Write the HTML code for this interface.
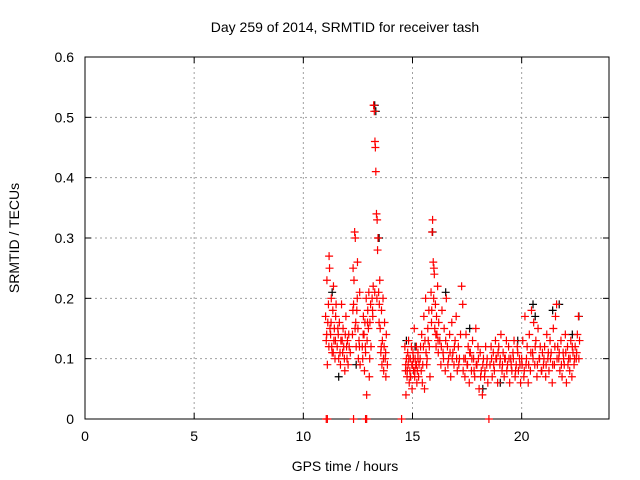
<!DOCTYPE html>
<html><head><meta charset="utf-8"><style>
body{margin:0;background:#fff;}
svg{display:block;font-family:"Liberation Sans",sans-serif;}
</style></head><body>
<svg id="chart" width="640" height="480" viewBox="0 0 640 480">
<rect width="640" height="480" fill="#fff"/>
<text x="345" y="32" font-size="14" text-anchor="middle">Day 259 of 2014, SRMTID for receiver tash</text>
<text x="345" y="471" font-size="14" text-anchor="middle">GPS time / hours</text>
<text transform="translate(19,238) rotate(-90)" font-size="14" text-anchor="middle">SRMTID / TECUs</text>
<g id="grid"></g>
<g id="axes"></g>
<g id="marks"></g>
</svg>
<script>
const xTicks=[0,5,10,15,20];
const yTicks=[0,0.1,0.2,0.3,0.4,0.5,0.6];
const yTickLabels=["0","0.1","0.2","0.3","0.4","0.5","0.6"];
const redTimes=[11.02,11.05,11.08,11.1,11.12,11.15,11.18,11.2,11.22,11.25,11.28,11.3,11.32,11.35,11.38,11.4,11.42,11.45,11.48,11.5,
11.55,11.6,11.62,11.65,11.7,11.72,11.75,11.8,11.82,11.85,11.9,11.92,11.95,12.0,12.02,12.05,12.1,12.15,
12.25,12.28,12.3,12.32,12.35,12.38,12.4,12.42,12.45,12.48,12.5,12.52,12.55,12.58,12.6,
12.7,12.72,12.75,12.78,12.8,12.82,12.85,12.88,12.9,12.92,12.95,12.98,13.0,13.02,13.05,13.08,13.1,
13.15,13.18,13.2,13.22,13.25,13.28,13.3,13.32,13.35,13.38,13.4,13.42,13.45,13.48,13.5,
13.52,13.55,13.58,13.6,13.62,13.65,13.68,13.7,13.72,13.75,13.78,13.8,13.85,
14.65,14.68,14.7,14.72,14.75,14.78,14.8,14.82,14.85,14.88,14.9,14.92,14.95,14.98,15.0,15.02,15.05,15.08,15.1,15.12,15.15,15.18,15.2,15.22,15.25,15.28,15.3,
15.35,15.4,15.42,15.45,15.5,15.52,15.55,15.6,15.62,15.65,15.7,15.72,15.75,15.8,
15.85,15.88,15.9,15.92,15.95,15.98,16.0,16.02,16.05,16.08,16.1,16.12,16.15,16.18,16.2,
16.25,16.3,16.35,16.4,16.45,16.5,16.55,16.6,16.65,16.7,16.75,16.8,16.85,16.9,16.95,17.0,17.05,17.1,17.15,17.2,
17.25,17.3,17.35,17.4,17.45,17.5,17.55,17.6,17.65,17.7,17.75,17.8,17.85,17.9,17.95,18.0,18.05,18.1,18.15,18.2,18.25,18.3,18.35,18.4,18.45,
18.55,18.6,18.65,18.7,18.75,18.8,18.85,18.9,18.95,19.0,19.05,19.1,19.15,19.2,19.25,19.3,19.35,19.4,19.45,19.5,19.55,19.6,19.65,19.7,19.75,19.8,19.85,19.9,19.95,
20.0,20.05,20.1,20.15,20.2,20.25,20.3,20.35,20.4,20.45,20.5,20.55,20.6,20.65,20.7,20.75,20.8,20.85,20.9,20.95,
21.0,21.05,21.1,21.15,21.2,21.25,21.3,21.35,21.4,21.45,21.5,21.55,21.6,21.65,21.7,21.75,21.8,21.85,21.9,21.95,22.0,22.05,22.1,22.15,22.2,22.25,22.3,22.35,22.4,22.45,22.5,22.55,22.6,22.65,
11.05,11.1,12.3,12.85,12.9,14.5,18.5];
const redValues=[0.17,0.13,0.23,0.09,0.16,0.19,0.27,0.25,0.15,0.14,0.20,0.12,0.11,0.18,0.22,0.13,0.15,0.10,0.17,0.19,
0.12,0.14,0.1,0.16,0.09,0.13,0.19,0.11,0.15,0.12,0.08,0.14,0.17,0.10,0.13,0.09,0.12,0.11,
0.14,0.25,0.19,0.23,0.31,0.30,0.16,0.12,0.18,0.26,0.15,0.10,0.13,0.21,0.09,
0.12,0.10,0.17,0.14,0.08,0.16,0.11,0.2,0.04,0.13,0.18,0.15,0.21,0.07,0.16,0.19,0.12,
0.20,0.17,0.22,0.52,0.51,0.46,0.45,0.41,0.34,0.33,0.28,0.30,0.21,0.19,0.23,
0.15,0.11,0.18,0.09,0.13,0.2,0.08,0.12,0.16,0.1,0.07,0.14,0.09,
0.12,0.08,0.04,0.10,0.07,0.11,0.09,0.13,0.06,0.08,0.10,0.07,0.12,0.05,0.09,0.11,0.08,0.15,0.07,0.10,0.09,0.12,0.06,0.08,0.11,0.07,0.09,
0.10,0.08,0.14,0.06,0.12,0.17,0.05,0.20,0.11,0.09,0.15,0.13,0.18,0.07,
0.21,0.18,0.31,0.33,0.26,0.25,0.24,0.15,0.19,0.12,0.17,0.14,0.22,0.11,0.16,
0.13,0.09,0.18,0.11,0.15,0.08,0.20,0.12,0.10,0.14,0.07,0.16,0.11,0.09,0.13,0.17,0.08,0.12,0.10,0.14,
0.22,0.19,0.10,0.07,0.14,0.09,0.12,0.06,0.11,0.08,0.13,0.10,0.07,0.15,0.09,0.12,0.05,0.11,0.08,0.04,0.10,0.07,0.12,0.09,0.06,
0.09,0.12,0.07,0.11,0.08,0.13,0.10,0.06,0.12,0.09,0.14,0.08,0.11,0.07,0.10,0.13,0.09,0.12,0.06,0.10,0.08,0.11,0.13,0.07,0.09,0.12,0.08,0.10,0.06,
0.10,0.13,0.07,0.17,0.09,0.12,0.06,0.14,0.08,0.18,0.11,0.16,0.09,0.13,0.07,0.15,0.10,0.12,0.08,0.11,
0.09,0.12,0.07,0.14,0.10,0.08,0.13,0.11,0.06,0.15,0.09,0.17,0.19,0.12,0.10,0.08,0.13,0.07,0.11,0.09,0.14,0.06,0.12,0.10,0.08,0.13,0.07,0.11,0.09,0.12,0.10,0.14,0.17,0.13,
0,0,0,0,0,0,0];
const extraTimes=[11.07,11.17,11.27,11.37,11.47,11.58,11.68,11.78,11.88,11.98,12.08,12.27,12.37,12.47,12.57,12.74,12.84,12.94,13.04,13.17,13.27,13.37,13.47,13.57,13.67,13.77,
14.69,14.76,14.83,14.9,14.97,15.04,15.11,15.18,15.25,15.37,15.47,15.57,15.67,15.77,15.87,15.97,16.07,16.17,16.32,16.42,16.52,16.62,16.72,16.82,16.92,17.02,17.12,
17.32,17.42,17.52,17.62,17.72,17.82,17.92,18.02,18.12,18.22,18.32,18.42,18.62,18.72,18.82,18.92,19.02,19.12,19.22,19.32,19.42,19.52,19.62,19.72,19.82,19.92,
20.02,20.12,20.22,20.32,20.42,20.52,20.62,20.72,20.82,20.92,21.02,21.12,21.22,21.32,21.42,21.52,21.62,21.72,21.82,21.92,22.02,22.12,22.22,22.32,22.42,22.52,22.62];
const extraValues=[0.14,0.12,0.16,0.11,0.13,0.15,0.11,0.13,0.10,0.12,0.14,0.18,0.15,0.2,0.12,0.14,0.12,0.16,0.1,0.18,0.21,0.2,0.16,0.12,0.1,0.11,
0.09,0.08,0.1,0.07,0.09,0.1,0.08,0.09,0.1,0.12,0.09,0.13,0.1,0.12,0.16,0.2,0.14,0.13,0.12,0.1,0.13,0.09,0.11,0.1,0.12,0.1,0.09,
0.08,0.1,0.09,0.11,0.1,0.08,0.09,0.1,0.07,0.09,0.08,0.1,0.1,0.09,0.1,0.11,0.1,0.09,0.1,0.08,0.1,0.09,0.1,0.08,0.11,0.09,
0.09,0.08,0.1,0.09,0.11,0.1,0.12,0.09,0.1,0.08,0.1,0.09,0.11,0.1,0.09,0.12,0.1,0.11,0.09,0.1,0.11,0.09,0.1,0.12,0.1,0.11,0.1];
const blackTimes=[11.3,11.6,12.4,13.25,13.3,13.45,14.7,15.1,15.9,16.5,17.6,18.2,19.0,19.8,20.5,20.6,21.4,21.7,22.3,22.6];
const blackValues=[0.21,0.07,0.09,0.52,0.51,0.30,0.13,0.12,0.31,0.21,0.15,0.05,0.06,0.13,0.19,0.17,0.18,0.19,0.14,0.17];

const X0=85,X1=609,Y0=419,Y1=57;
const xs=v=>X0+(X1-X0)*v/24;
const ys=v=>Y0-(Y0-Y1)*v/0.6;
const NS="http://www.w3.org/2000/svg";
function mk(tag,attrs,parent){const e=document.createElementNS(NS,tag);for(const k in attrs)e.setAttribute(k,attrs[k]);parent.appendChild(e);return e;}
const grid=document.getElementById('grid'),axes=document.getElementById('axes'),marks=document.getElementById('marks');
xTicks.forEach((t,i)=>{
  const x=xs(t);
  if(t>0){const g=mk('line',{x1:x,x2:x,y1:Y0,y2:Y1,stroke:'#a0a0a0','stroke-dasharray':'2,3'},grid);
  
  }
  mk('line',{x1:x,x2:x,y1:Y0,y2:Y0-6,stroke:'#000'},axes);
  mk('line',{x1:x,x2:x,y1:Y1,y2:Y1+6,stroke:'#000'},axes);
  const l=mk('text',{x:x,y:Y0+22,'font-size':14,'text-anchor':'middle'},axes);
  l.textContent=String(t);
  
  
});
yTicks.forEach((t,i)=>{
  const y=ys(t);
  if(t>0&&t<0.6){const g=mk('line',{x1:X0,x2:X1,y1:y,y2:y,stroke:'#a0a0a0','stroke-dasharray':'2,3'},grid);
  
  }
  mk('line',{x1:X0,x2:X0+6,y1:y,y2:y,stroke:'#000'},axes);
  mk('line',{x1:X1,x2:X1-6,y1:y,y2:y,stroke:'#000'},axes);
  const l=mk('text',{x:X0-11,y:y+5,'font-size':14,'text-anchor':'end'},axes);
  l.textContent=yTickLabels[i];
  
  
});
const fr=mk('rect',{x:X0,y:Y1,width:X1-X0,height:Y0-Y1,fill:'none',stroke:'#000'},axes);


function plus(t,v,color,name){
  const x=xs(t),y=ys(v);
  const p=mk('path',{d:`M${x-4},${y}h8M${x},${y-4}v8`,stroke:color,'stroke-width':1.2,fill:'none'},marks);
  
  
}
blackTimes.forEach((t,i)=>plus(t+0.02,blackValues[i],'#000','black-point'));
redTimes.forEach((t,i)=>plus(t,redValues[i],'#f00','red-point'));
extraTimes.forEach((t,i)=>plus(t,extraValues[i],'#f00','red-point'));
</script>
</body></html>
